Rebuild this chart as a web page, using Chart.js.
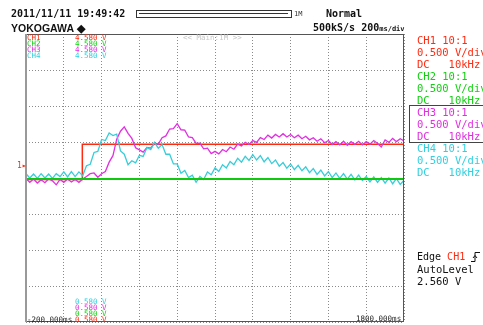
<!DOCTYPE html>
<html>
<head>
<meta charset="utf-8">
<script src="https://cdn.jsdelivr.net/npm/chart.js@4.4.1/dist/chart.umd.min.js"></script>
<style>
  html, body { margin: 0; padding: 0; background: #fff; }
  #wrap { position: relative; width: 483px; height: 325px; overflow: hidden; font-family: "DejaVu Sans Mono", monospace; }
  #scope { position: absolute; left: 0; top: 0; }
  .t { position: absolute; white-space: pre; font-size: 10px; line-height: 10px; font-weight: bold; }
  .p { position: absolute; white-space: pre; font-size: 10.5px; line-height: 10px; }
  .s { position: absolute; white-space: pre; font-size: 7.5px; line-height: 7px; }
  .red { color: #ff2a10; } .grn { color: #10d010; } .mag { color: #e030e0; } .cyn { color: #30d0e0; }
</style>
</head>
<body>
<div id="wrap">
  <canvas id="scope" width="483" height="325"></canvas>

  <div class="t" style="left:11px;top:9px;color:#111">2011/11/11 19:49:42</div>
  <div style="position:absolute;left:136px;top:10px;width:154px;height:6px;border:1px solid #333;"></div>
  <div style="position:absolute;left:139px;top:13px;width:149px;height:1px;background:#333;"></div>
  <div class="s" style="left:294px;top:11px;color:#333;font-size:7px">1M</div>
  <div class="t" style="left:326px;top:9px;color:#111">Normal</div>
  <div class="t" style="left:11px;top:23px;color:#111;font-family:'Liberation Sans',sans-serif;font-size:10.5px">YOKOGAWA ◆</div>
  <div class="t" style="left:313px;top:23px;color:#111">500kS/s 200<span style="font-size:7px">ms/div</span></div>

  <div class="s red" style="left:27px;top:34px">CH1</div><div class="s red" style="left:75px;top:34px">4.580 V</div>
  <div class="s grn" style="left:27px;top:40px">CH2</div><div class="s grn" style="left:75px;top:40px">4.580 V</div>
  <div class="s mag" style="left:27px;top:46px">CH3</div><div class="s mag" style="left:75px;top:46px">4.580 V</div>
  <div class="s cyn" style="left:27px;top:52px">CH4</div><div class="s cyn" style="left:75px;top:52px">4.580 V</div>
  <div class="s" style="left:183px;top:34px;color:#c8c8c8">&lt;&lt; Main:1M &gt;&gt;</div>

  <div class="s cyn" style="left:75px;top:298px">0.580 V</div>
  <div class="s mag" style="left:75px;top:304px">0.580 V</div>
  <div class="s grn" style="left:75px;top:310px">0.580 V</div>
  <div class="s red" style="left:75px;top:316px">0.580 V</div>
  <div class="s" style="left:27px;top:316px;color:#222">-200.000ms</div>
  <div class="s" style="left:356px;top:315px;color:#222">1800.000ms</div>

  <div class="s red" style="left:17px;top:162px;font-size:8px">1&#9656;</div>

  <div class="p red" style="left:417px;top:35px">CH1 10:1</div>
  <div class="p red" style="left:417px;top:47px">0.500 V/div</div>
  <div class="p red" style="left:417px;top:59px">DC   10kHz</div>
  <div class="p grn" style="left:417px;top:71px">CH2 10:1</div>
  <div class="p grn" style="left:417px;top:83px">0.500 V/div</div>
  <div class="p grn" style="left:417px;top:95px">DC   10kHz</div>
  <div style="position:absolute;left:409px;top:105px;width:80px;height:36px;border:1px solid #444;"></div>
  <div class="p mag" style="left:417px;top:107px">CH3 10:1</div>
  <div class="p mag" style="left:417px;top:119px">0.500 V/div</div>
  <div class="p mag" style="left:417px;top:131px">DC   10kHz</div>
  <div class="p cyn" style="left:417px;top:143px">CH4 10:1</div>
  <div class="p cyn" style="left:417px;top:155px">0.500 V/div</div>
  <div class="p cyn" style="left:417px;top:167px">DC   10kHz</div>

  <div class="p" style="left:417px;top:252px;color:#111;font-size:10px">Edge <span class="red">CH1</span></div>
  <svg style="position:absolute;left:471px;top:251px" width="10" height="12" viewBox="0 0 10 12">
    <path d="M0 10.5 H4 V1.5 H9" fill="none" stroke="#111" stroke-width="1"/>
    <path d="M2 7 L4 4.5 L6 7" fill="none" stroke="#111" stroke-width="1"/>
  </svg>
  <div class="p" style="left:417px;top:264px;color:#111">AutoLevel</div>
  <div class="p" style="left:417px;top:276px;color:#111">2.560 V</div>
</div>

<script>
// time axis: -200 ms .. 1800 ms, 200 ms/div; vertical axis in divisions (-4..4)
var startMs = -200;
var stepMs = 20;

// CH3 (magenta), one sample every 20 ms, in divisions
var ch3 = [
  -0.02, -0.12, -0.03, -0.14, -0.05, -0.13, -0.02, -0.08, -0.19, -0.04,
  -0.12, -0.03, -0.11, -0.04, -0.12, -0.03, 0.04, 0.12, 0.14, 0.02,
  0.12, 0.18, 0.44, 0.62, 1.08, 1.30, 1.42, 1.24, 1.10, 0.84,
  0.78, 0.72, 0.85, 0.83, 0.97, 0.94, 1.12, 1.17, 1.36, 1.37,
  1.51, 1.34, 1.33, 1.14, 1.12, 0.96, 0.97, 0.81, 0.83, 0.68,
  0.74, 0.67, 0.79, 0.73, 0.86, 0.80, 0.94, 0.89, 0.99, 0.93,
  1.04, 0.99, 1.12, 1.07, 1.19, 1.11, 1.21, 1.14, 1.23, 1.14,
  1.21, 1.12, 1.19, 1.09, 1.16, 1.06, 1.12, 1.02, 1.09, 0.98,
  1.04, 0.93, 1.01, 0.92, 1.02, 0.91, 1.01, 0.93, 1.02, 0.92,
  1.01, 0.94, 1.04, 0.96, 0.86, 1.06, 0.99, 1.10, 1.01, 1.09,
  1.03
];

// CH4 (cyan), one sample every 20 ms, in divisions
var ch4 = [
  0.12, 0.00, 0.11, -0.01, 0.12, 0.00, 0.11, -0.01, 0.12, 0.04,
  0.17, 0.03, 0.18, 0.04, 0.17, 0.06, 0.34, 0.38, 0.71, 0.74,
  1.07, 1.04, 1.25, 1.18, 1.22, 0.75, 0.66, 0.37, 0.48, 0.42,
  0.63, 0.60, 0.85, 0.79, 0.99, 0.83, 0.93, 0.66, 0.66, 0.39,
  0.39, 0.13, 0.21, 0.01, 0.08, -0.12, 0.04, -0.04, 0.17, 0.09,
  0.28, 0.18, 0.37, 0.28, 0.46, 0.37, 0.55, 0.44, 0.60, 0.49,
  0.65, 0.50, 0.62, 0.45, 0.57, 0.40, 0.50, 0.33, 0.43, 0.27,
  0.39, 0.23, 0.35, 0.20, 0.31, 0.15, 0.26, 0.10, 0.22, 0.06,
  0.18, 0.01, 0.14, -0.01, 0.12, -0.03, 0.10, -0.05, 0.08, -0.07,
  0.04, -0.11, 0.03, -0.12, 0.01, -0.14, 0.00, -0.16, -0.02, -0.18,
  -0.06
];

// CH1 (red) step and CH2 (green) flat line, as [ms, div]
var ch1 = [[-200, -0.04], [98, -0.04], [98, 0.94], [1800, 0.94]];
var ch2 = [[-200, -0.03], [1800, -0.03]];

function sampled(arr) {
    return arr.map(function (v, i) { return { x: startMs + i * stepMs, y: v }; });
}
function pairs(arr) {
    return arr.map(function (p) { return { x: p[0], y: p[1] }; });
}

var framePlugin = {
    id: 'frame',
    afterDraw: function (chart) {
        var a = chart.chartArea, ctx = chart.ctx;
        ctx.save();
        ctx.strokeStyle = '#555';
        ctx.lineWidth = 1;
        ctx.strokeRect(a.left + 0.5, a.top + 0.5, a.right - a.left - 1, a.bottom - a.top - 1);
        ctx.strokeStyle = '#999';
        ctx.lineWidth = 2;
        ctx.beginPath();
        ctx.moveTo(a.left, a.top);
        ctx.lineTo(a.left, a.bottom);
        ctx.stroke();
        ctx.restore();
    }
};

var ctx = document.getElementById('scope').getContext('2d');
var scopeChart = new Chart(ctx, {
    type: 'line',
    data: {
        datasets: [{
            label: 'CH2',
            data: pairs(ch2),
            borderColor: '#10c810',
            borderWidth: 2
        }, {
            label: 'CH4',
            data: sampled(ch4),
            borderColor: '#38cdd8',
            borderWidth: 1.3
        }, {
            label: 'CH3',
            data: sampled(ch3),
            borderColor: '#e030e0',
            borderWidth: 1.3
        }, {
            label: 'CH1',
            data: pairs(ch1),
            borderColor: '#ff2a10',
            borderWidth: 1.5
        }]
    },
    options: {
        responsive: false,
        animation: false,
        events: [],
        layout: { padding: { left: 26, right: 79, top: 34, bottom: 3 } },
        elements: { point: { radius: 0 }, line: { tension: 0 } },
        plugins: { legend: { display: false }, tooltip: { enabled: false } },
        scales: {
            x: {
                type: 'linear',
                min: -200,
                max: 1800,
                ticks: { display: false, stepSize: 200 },
                grid: { color: '#8a8a8a', lineWidth: 1, drawTicks: false },
                border: { display: false, dash: [1, 2] }
            },
            y: {
                min: -4,
                max: 4,
                ticks: { display: false, stepSize: 1 },
                grid: { color: '#8a8a8a', lineWidth: 1, drawTicks: false },
                border: { display: false, dash: [1, 2] }
            }
        }
    },
    plugins: [framePlugin]
});
</script>
</body>
</html>
